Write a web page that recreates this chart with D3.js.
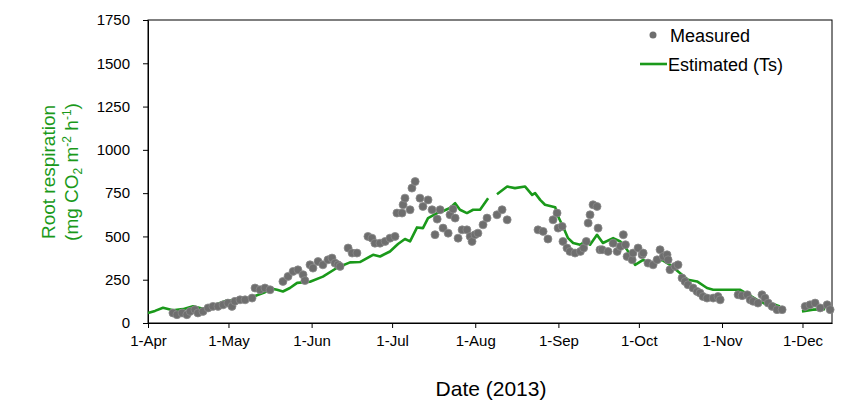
<!DOCTYPE html>
<html><head><meta charset="utf-8">
<script src="https://cdn.jsdelivr.net/npm/d3@7"></script>
<style>
html,body{margin:0;padding:0;background:#fff;}
svg{display:block;font-family:"Liberation Sans",Arial,sans-serif;}
</style></head>
<body><svg id="chart" width="866" height="408"></svg>
<script>
// Days after 1-Apr-2013 and values (mg CO2 m-2 h-1)
const measuredDay = [9.3,10.8,12.7,14.5,15.7,17.5,18.6,20.5,22.4,24.2,26.1,28.0,29.8,31.3,32.4,34.3,36.2,38.8,39.9,41.8,43.6,45.5,
 50.3,52.2,54.1,55.9,57.8,58.5,60.4,61.5,63.4,65.2,67.1,68.6,69.7,70.8,71.6,74.6,76.1,77.9,82.0,83.5,84.6,86.5,88.4,90.2,92.1,
 92.8,94.7,95.1,95.8,97.7,98.4,99.6,101.4,102.5,104.4,105.9,107.0,107.8,108.9,110.0,111.9,112.6,113.7,114.5,115.6,117.1,118.9,
 120.1,120.8,121.9,123.0,124.9,126.4,130.1,132.0,133.9,145.4,147.3,149.1,151.0,152.5,152.9,154.4,154.7,156.2,157.3,159.2,161.2,
 162.4,163.4,164.1,164.8,165.9,167.4,167.8,168.5,169.3,171.5,173.4,174.9,176.1,177.2,178.0,178.6,180.5,180.8,182.7,184.2,184.6,
 186.4,188.3,189.8,190.9,192.1,193.5,193.9,194.6,196.5,197.6,199.1,200.2,201.3,203.2,204.7,205.8,206.9,208.4,210.7,212.5,213.3,
 220.0,221.5,223.4,224.5,225.6,227.4,228.9,230.0,231.2,232.7,234.5,236.4,245.0,246.8,248.7,250.6,253.2,254.3];
const measuredVal = [58,48,58,48,67,77,58,67,87,96,96,105,115,96,125,134,134,144,202,192,202,192,
 240,269,298,307,279,245,336,317,355,336,365,375,346,336,327,433,404,404,500,490,461,461,471,490,500,
 635,635,683,721,654,779,817,721,673,711,654,510,600,654,548,519,625,658,606,490,538,538,
 500,471,510,519,567,606,625,654,596,538,529,485,596,635,548,558,471,433,413,404,413,
 433,471,577,625,683,673,548,423,423,413,461,413,442,510,452,384,365,404,433,394,404,
 346,336,365,423,384,394,365,308,327,336,260,240,221,202,182,173,153,144,144,153,134,
 163,158,163,134,125,115,163,144,115,96,77,77,96,105,115,87,105,77];

// Estimated (Ts); null marks a break in the line
const estimatedDay = [0,2.6,5.6,9.3,13.0,16.8,20.5,25.0,29.5,34.3,38.8,43.6,45.5,48.1,50.3,52.9,55.6,60.4,65.2,70.5,75.3,79.0,
 83.9,86.5,90.2,93.2,95.8,97.7,100.3,102.5,104.4,107.8,109.6,112.6,114.5,116.3,118.9,121.2,123.8,126.8,128.5,
 130.1,133.9,136.8,140.6,143.2,144.3,146.2,148.0,151.8,152.9,154.7,156.6,158.5,161.1,163.0,164.8,167.4,169.6,173.4,176.1,
 178.6,181.6,184.6,187.9,191.6,194.6,198.4,201.3,204.7,208.4,210.7,214.4,220.8,223.7,227.1,230.8,233.0,235.6,240,
 243.8,247.9,252.4];
const estimatedVal = [58,70,88,73,80,96,82,105,130,130,150,178,200,192,182,202,232,238,268,319,350,352,
 394,384,413,456,485,471,552,548,606,635,644,664,692,654,635,654,654,721,null,
 744,788,779,788,740,750,711,683,669,615,557,490,462,452,471,452,509,462,490,471,
 423,336,365,336,365,336,288,250,240,202,192,192,192,165,134,105,110,95,null,
 67,77,80];

const yTicks = [0,250,500,750,1000,1250,1500,1750];
const monthTicks = ["2013-04-01","2013-05-01","2013-06-01","2013-07-01","2013-08-01","2013-09-01","2013-10-01","2013-11-01","2013-12-01"];

const GREEN = "#1a991a";
const start = new Date(2013,3,1);
const dayToDate = d => new Date(start.getTime() + d*86400000);
const parse = d3.timeParse("%Y-%m-%d");

const svg = d3.select("#chart");
const L=148, R=832, T=20, B=323;
const x = d3.scaleTime().domain([start, new Date(2013,11,12)]).range([L,R]);
const y = d3.scaleLinear().domain([0,1750]).range([B,T]);

// frame
svg.append("rect").attr("x",L).attr("y",T).attr("width",R-L).attr("height",B-T)
  .attr("fill","none").attr("stroke","#000").attr("stroke-width",1);

const xAxis = svg.append("g").attr("transform",`translate(0,${B})`)
  .call(d3.axisBottom(x).tickValues(monthTicks.map(parse)).tickFormat(d3.timeFormat("%-d-%b")).tickSize(5).tickSizeOuter(0));
const yAxis = svg.append("g").attr("transform",`translate(${L},0)`)
  .call(d3.axisLeft(y).tickValues(yTicks).tickFormat(d3.format("d")).tickSize(5).tickSizeOuter(0));
[xAxis,yAxis].forEach(g=>{
  g.selectAll("path,line").attr("stroke","#000");
  g.selectAll("text").attr("fill","#000").style("font-size","15px").style("font-family","Liberation Sans, Arial, sans-serif");
});
xAxis.selectAll("text").attr("y",12);
yAxis.selectAll("text").attr("x",-18);

// estimated line
const est = estimatedDay.map((d,i)=>({d:dayToDate(d), v:estimatedVal[i]}));
svg.append("path").datum(est)
  .attr("fill","none").attr("stroke",GREEN).attr("stroke-width",2.6).attr("stroke-linejoin","round")
  .attr("d", d3.line().defined(p=>p.v!==null).x(p=>x(p.d)).y(p=>y(p.v)));

// measured points
const meas = measuredDay.map((d,i)=>({d:dayToDate(d), v:measuredVal[i]}));
svg.append("g").selectAll("circle").data(meas).join("circle")
  .attr("cx",p=>x(p.d)).attr("cy",p=>y(p.v)).attr("r",4)
  .attr("fill","#6e6e6e").attr("stroke","#8a8a8a").attr("stroke-width",0.8);

// legend
const lg = svg.append("g").style("font-size","18px");
lg.append("circle").attr("cx",653).attr("cy",35).attr("r",3.5).attr("fill","#6e6e6e");
lg.append("text").attr("x",670).attr("y",42).text("Measured");
lg.append("line").attr("x1",640).attr("x2",667).attr("y1",64).attr("y2",64).attr("stroke",GREEN).attr("stroke-width",2.6);
lg.append("text").attr("x",668).attr("y",71).text("Estimated (Ts)");

// axis titles
svg.append("text").attr("x",491).attr("y",396).attr("text-anchor","middle").style("font-size","21px").text("Date (2013)");
const yt = svg.append("g").attr("fill",GREEN).style("font-size","19px");
yt.append("text").attr("transform","translate(55,172) rotate(-90)").attr("text-anchor","middle").text("Root respiration");
const t2 = yt.append("text").attr("transform","translate(78,172) rotate(-90)").attr("text-anchor","middle");
t2.append("tspan").text("(mg CO");
t2.append("tspan").attr("dy",4).style("font-size","12px").text("2");
t2.append("tspan").attr("dy",-4).text(" m");
t2.append("tspan").attr("dy",-7).style("font-size","12px").text("-2");
t2.append("tspan").attr("dy",7).text(" h");
t2.append("tspan").attr("dy",-7).style("font-size","12px").text("-1");
t2.append("tspan").attr("dy",7).text(")");
</script></body></html>
